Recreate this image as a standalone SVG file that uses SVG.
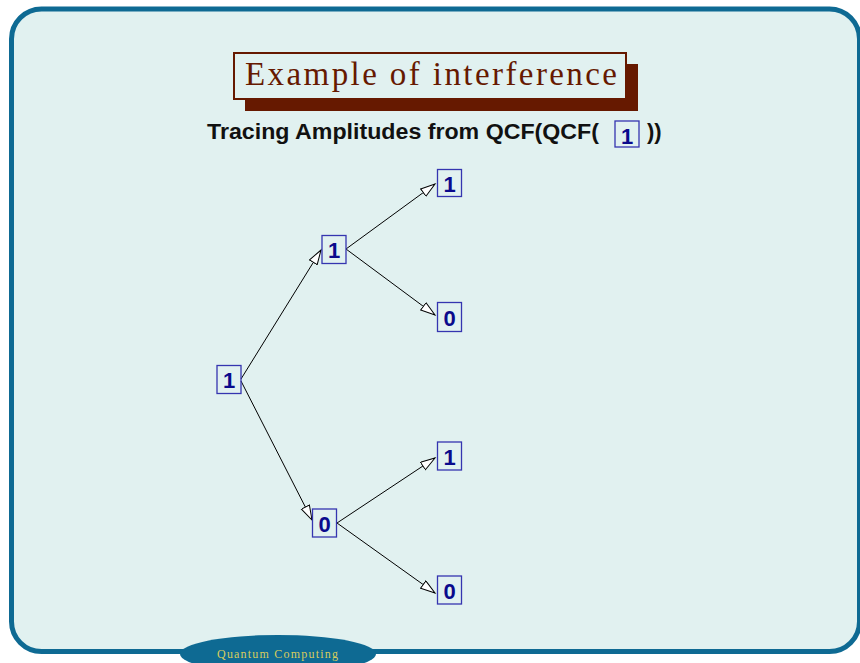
<svg xmlns="http://www.w3.org/2000/svg" width="860" height="663" viewBox="0 0 860 663">
<style>
.frame{fill:#e1f1f0;stroke:#0e6a93;stroke-width:5}
.nb{fill:none;stroke:#3535b0;stroke-width:1.3}
.nt{font-family:"Liberation Sans",Arial,sans-serif;font-weight:bold;font-size:22px;fill:#0a0a8c;text-anchor:middle}
.edge{stroke:#000;stroke-width:1;fill:none;marker-end:url(#ah)}
</style>
<defs>
<marker id="ah" markerUnits="userSpaceOnUse" markerWidth="18" markerHeight="12" refX="15" refY="5" orient="auto">
<path d="M0.5,0.5 L15,5 L0.5,9.5 Z" fill="#fff" stroke="#000" stroke-width="1"/>
</marker>
</defs>
<rect width="860" height="663" fill="#fff"/>
<rect class="frame" x="11.5" y="9" width="848" height="642.5" rx="30" ry="30"/>
<g id="title">
<rect x="245" y="64" width="393" height="47" fill="#661900"/>
<rect x="234" y="53" width="392" height="46" fill="#e1f1f0" stroke="#661900" stroke-width="2"/>
<text x="245" y="85" font-family="Liberation Serif,serif" font-size="33" fill="#661900" textLength="372" lengthAdjust="spacing">Example of interference</text>
</g>
<g id="subtitle">
<text x="207" y="139" font-family="Liberation Sans,Arial,sans-serif" font-weight="bold" font-size="22" fill="#111" textLength="392" lengthAdjust="spacingAndGlyphs">Tracing Amplitudes from QCF(QCF(</text>
<rect class="nb" x="615" y="121" width="24" height="26"/>
<text class="nt" x="627" y="144">1</text>
<text x="647" y="139" font-family="Liberation Sans,Arial,sans-serif" font-weight="bold" font-size="22" fill="#111">))</text>
</g>
<g id="connectors">
<line class="edge" x1="241" y1="379" x2="321" y2="250"/>
<line class="edge" x1="241" y1="381" x2="312" y2="520"/>
<line class="edge" x1="346" y1="249" x2="435" y2="184"/>
<line class="edge" x1="346" y1="249" x2="435" y2="315"/>
<line class="edge" x1="337" y1="523" x2="435" y2="458"/>
<line class="edge" x1="337" y1="523" x2="435" y2="593"/>
</g>
<g id="n_root"><rect class="nb" x="217" y="365.5" width="24" height="28"/><text class="nt" x="229" y="388">1</text></g>
<g id="n_a"><rect class="nb" x="322" y="235.5" width="24" height="28"/><text class="nt" x="334" y="258">1</text></g>
<g id="n_b"><rect class="nb" x="312.5" y="509" width="24" height="28"/><text class="nt" x="324.5" y="531.5">0</text></g>
<g id="n_aa"><rect class="nb" x="437.5" y="169.5" width="24" height="27"/><text class="nt" x="449.5" y="192">1</text></g>
<g id="n_ab"><rect class="nb" x="437.5" y="302.5" width="24" height="29"/><text class="nt" x="449.5" y="326">0</text></g>
<g id="n_ba"><rect class="nb" x="437.5" y="442" width="24" height="28"/><text class="nt" x="449.5" y="465">1</text></g>
<g id="n_bb"><rect class="nb" x="437.5" y="576" width="24" height="28"/><text class="nt" x="449.5" y="599">0</text></g>
<g id="footer">
<ellipse cx="278" cy="654" rx="98" ry="19" fill="#0e6a93"/>
<text x="217" y="658" font-family="Liberation Serif,serif" font-size="12" fill="#d8cc5c" textLength="121" lengthAdjust="spacing">Quantum Computing</text>
</g>
</svg>
